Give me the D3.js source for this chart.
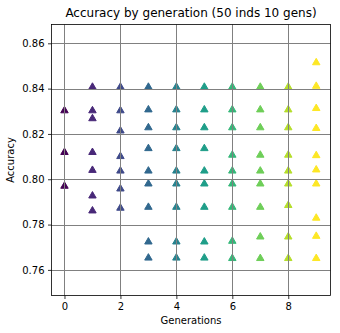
<!DOCTYPE html>
<html>
<head>
<meta charset="utf-8">
<script src="https://cdn.jsdelivr.net/npm/d3@7"></script>
<style>
  html, body { margin: 0; padding: 0; background: #fff; }
  text { font-family: "DejaVu Sans", sans-serif; }
</style>
</head>
<body>
<script>
// ---- data ----
const generations = [0, 1, 2, 3, 4, 5, 6, 7, 8, 9];
const accGen0 = [0.8305, 0.8121, 0.7972];
const accGen1 = [0.8409, 0.8305, 0.8270, 0.8121, 0.8042, 0.7929, 0.7863];
const accGen2 = [0.8409, 0.8305, 0.8216, 0.8103, 0.8039, 0.7960, 0.7875];
const accGen3 = [0.8409, 0.8309, 0.8230, 0.8138, 0.8039, 0.7982, 0.7879, 0.7726, 0.7655];
const accGen4 = [0.8409, 0.8309, 0.8230, 0.8138, 0.8039, 0.7982, 0.7879, 0.7726, 0.7655];
const accGen5 = [0.8409, 0.8309, 0.8230, 0.8138, 0.8039, 0.7982, 0.7879, 0.7726, 0.7655];
const accGen6 = [0.8409, 0.8309, 0.8230, 0.8109, 0.8039, 0.7982, 0.7879, 0.7729, 0.7653];
const accGen7 = [0.8409, 0.8309, 0.8230, 0.8109, 0.8039, 0.7982, 0.7879, 0.7748, 0.7653];
const accGen8 = [0.8409, 0.8309, 0.8230, 0.8109, 0.8039, 0.7982, 0.7887, 0.7748, 0.7653];
const accGen9 = [0.8517, 0.8413, 0.8315, 0.8227, 0.8107, 0.8044, 0.7982, 0.7831, 0.7751, 0.7653];
const accByGen = [accGen0, accGen1, accGen2, accGen3, accGen4, accGen5, accGen6, accGen7, accGen8, accGen9];
const xTicks = [0, 2, 4, 6, 8];
const yTicks = [0.76, 0.78, 0.80, 0.82, 0.84, 0.86];
const titleText = "Accuracy by generation (50 inds 10 gens)";
const xLabel = "Generations";
const yLabel = "Accuracy";

(function () {
// ---- layout ----
const W = 340, H = 333;
const mLeft = 51.5, mRight = 330.5, mTop = 24.5, mBottom = 295.5;

const svg = d3.select("body").append("svg")
  .attr("width", W).attr("height", H);

const x = d3.scaleLinear().domain([-0.464, 9.51]).range([mLeft, mRight]);
const y = d3.scaleLinear().domain([0.7487, 0.8683]).range([mBottom, mTop]);
const color = d => d3.interpolateViridis(d / 9);

const points = [];
generations.forEach((g, i) => accByGen[i].forEach(v => points.push({g, v})));

// points
const tri = d3.symbol().type(d3.symbolTriangle).size(24);
svg.append("g").selectAll("path").data(points).enter().append("path")
  .attr("d", tri)
  .attr("transform", d => `translate(${x(d.g)},${y(d.v) + 0.5})`)
  .attr("fill", d => color(d.g))
  .attr("stroke", d => color(d.g))
  .attr("stroke-width", 1);

// grid (drawn above markers, like matplotlib)
const grid = svg.append("g");
grid.selectAll("line.gx").data(xTicks).enter().append("line")
  .attr("x1", d => Math.round(x(d)) + 0.5).attr("x2", d => Math.round(x(d)) + 0.5)
  .attr("y1", mTop).attr("y2", mBottom)
  .attr("stroke", "#808080").attr("stroke-width", 1);
grid.selectAll("line.gy").data(yTicks).enter().append("line")
  .attr("y1", d => Math.round(y(d)) + 0.5).attr("y2", d => Math.round(y(d)) + 0.5)
  .attr("x1", mLeft).attr("x2", mRight)
  .attr("stroke", "#808080").attr("stroke-width", 1);

// axes
const xAxis = d3.axisBottom(x).tickValues(xTicks).tickSize(3.5).tickPadding(3.5).tickFormat(d3.format("d"));
const yAxis = d3.axisLeft(y).tickValues(yTicks).tickSize(3.5).tickPadding(3.5).tickFormat(d3.format(".2f"));
const gx = svg.append("g").attr("transform", `translate(0,${mBottom})`).call(xAxis);
const gy = svg.append("g").attr("transform", `translate(${mLeft},0)`).call(yAxis);
[gx, gy].forEach(g => {
  g.select(".domain").remove();
  g.selectAll(".tick line").attr("stroke", "#000").attr("stroke-width", 0.8);
  g.selectAll(".tick text").attr("font-size", 10).attr("fill", "#000")
    .attr("font-family", "DejaVu Sans, sans-serif");
});

// frame
svg.append("rect").attr("x", mLeft).attr("y", mTop)
  .attr("width", mRight - mLeft).attr("height", mBottom - mTop)
  .attr("fill", "none").attr("stroke", "#000").attr("stroke-width", 0.8);

// labels
svg.append("text").attr("x", (mLeft + mRight) / 2).attr("y", 17)
  .attr("text-anchor", "middle").attr("font-size", 12).text(titleText);
svg.append("text").attr("x", (mLeft + mRight) / 2).attr("y", 324)
  .attr("text-anchor", "middle").attr("font-size", 10).text(xLabel);
svg.append("text").attr("transform", `translate(14,${(mTop + mBottom) / 2}) rotate(-90)`)
  .attr("text-anchor", "middle").attr("font-size", 10).text(yLabel);
})();
</script>
</body>
</html>
